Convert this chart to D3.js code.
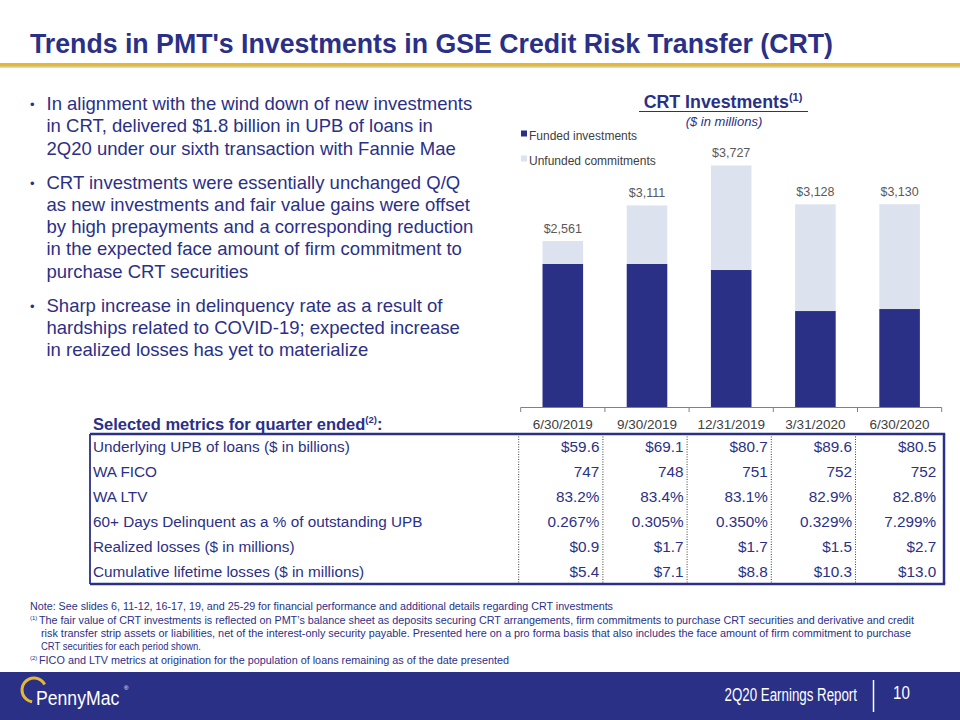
<!DOCTYPE html>
<html><head><meta charset="utf-8">
<script src="https://cdn.jsdelivr.net/npm/d3@7"></script>
<style>
html,body{margin:0;padding:0;background:#fff;}
svg{display:block;}
</style></head>
<body>
<svg id="c" width="960" height="720"></svg>
<script>
// ---- Data ----
const quarters = ["6/30/2019", "9/30/2019", "12/31/2019", "3/31/2020", "6/30/2020"];
const fundedInvestments = [2207, 2207, 2114, 1481, 1512];
const unfundedCommitments = [354, 904, 1613, 1647, 1618];
const totalLabels = [2561, 3111, 3727, 3128, 3130];
const seriesNames = ["Funded investments", "Unfunded commitments"];

const metricLabels = [
  "Underlying UPB of loans ($ in billions)",
  "WA FICO",
  "WA LTV",
  "60+ Days Delinquent as a % of outstanding UPB",
  "Realized losses ($ in millions)",
  "Cumulative lifetime losses ($ in millions)"
];
const upbBillions = [59.6, 69.1, 80.7, 89.6, 80.5];
const waFico = [747, 748, 751, 752, 752];
const waLtv = [83.2, 83.4, 83.1, 82.9, 82.8];
const delinquent60 = [0.267, 0.305, 0.350, 0.329, 7.299];
const realizedLosses = [0.9, 1.7, 1.7, 1.5, 2.7];
const cumulativeLosses = [5.4, 7.1, 8.8, 10.3, 13.0];

const bullets = [
  ["In alignment with the wind down of new investments",
   "in CRT, delivered $1.8 billion in UPB of loans in",
   "2Q20 under our sixth transaction with Fannie Mae"],
  ["CRT investments were essentially unchanged Q/Q",
   "as new investments and fair value gains were offset",
   "by high prepayments and a corresponding reduction",
   "in the expected face amount of firm commitment to",
   "purchase CRT securities"],
  ["Sharp increase in delinquency rate as a result of",
   "hardships related to COVID-19; expected increase",
   "in realized losses has yet to materialize"]
];

// ---- Styles ----
const NAVY = "#2B3087";
const LIGHT = "#DCE3EF";
const GOLD = "#E3B836";
const SANS = "Arial, 'Liberation Sans', sans-serif";
const NARROW = "'Liberation Sans Narrow', 'Arial Narrow', 'Liberation Sans', Arial, sans-serif";

const svg = d3.select("#c");

// ---- Title ----
svg.append("text").attr("x", 30).attr("y", 53)
  .attr("font-family", NARROW).attr("font-weight", "bold").attr("font-size", 27)
  .attr("fill", NAVY).attr("textLength", 803).attr("lengthAdjust", "spacingAndGlyphs")
  .text("Trends in PMT's Investments in GSE Credit Risk Transfer (CRT)");
svg.append("rect").attr("x", 0).attr("y", 66).attr("width", 960).attr("height", 2).attr("fill", "#d9d9d9");
svg.append("rect").attr("x", 0).attr("y", 63).attr("width", 960).attr("height", 3.5).attr("fill", GOLD);

// ---- Bullets ----
const bulletStart = [110, 188.5, 311.5];
const lineStep = 22.3;
bullets.forEach((lines, bi) => {
  svg.append("text").attr("x", 30).attr("y", bulletStart[bi] - 1)
    .attr("font-family", SANS).attr("font-size", 13).attr("fill", NAVY).text("•");
  lines.forEach((ln, li) => {
    svg.append("text").attr("x", 46.5).attr("y", bulletStart[bi] + li * lineStep)
      .attr("font-family", SANS).attr("font-size", 18.5).attr("fill", NAVY).text(ln);
  });
});

// ---- Chart ----
const x = d3.scaleBand().domain(quarters).range([520.7, 941.7]).paddingInner(0.518).paddingOuter(0.259);
const y = d3.scaleLinear().domain([0, 4000]).range([407, 147.8]);
const step = x.step(), bw = x.bandwidth();

const stackData = quarters.map((q, i) => ({q, funded: fundedInvestments[i], unfunded: unfundedCommitments[i]}));
const stack = d3.stack().keys(["funded", "unfunded"])(stackData);
const colors = {funded: NAVY, unfunded: LIGHT};

svg.append("g").selectAll("g").data(stack).join("g")
  .attr("fill", d => colors[d.key])
  .selectAll("rect").data(d => d).join("rect")
  .attr("x", d => x(d.data.q)).attr("width", bw)
  .attr("y", d => y(d[1])).attr("height", d => y(d[0]) - y(d[1]));

// value labels
svg.append("g").selectAll("text").data(quarters).join("text")
  .attr("x", q => x(q) + bw / 2)
  .attr("y", (q, i) => y(fundedInvestments[i] + unfundedCommitments[i]) - 8)
  .attr("text-anchor", "middle").attr("font-family", SANS).attr("font-size", 12.5).attr("fill", "#595959")
  .text((q, i) => "$" + d3.format(",")(totalLabels[i]));

// axis line + ticks at band boundaries
const axisY = y(0) + 0.5;
const x0 = x.range()[0], x1 = x.range()[1];
svg.append("line").attr("x1", x0).attr("x2", x1).attr("y1", axisY).attr("y2", axisY)
  .attr("stroke", "#808080").attr("stroke-width", 1);
const bounds = quarters.map(q => x(q) - (step - bw) / 2).concat([x1]);
svg.append("g").selectAll("line").data(bounds).join("line")
  .attr("x1", d => d).attr("x2", d => d).attr("y1", axisY).attr("y2", axisY + 4.5)
  .attr("stroke", "#808080").attr("stroke-width", 1);

// category labels
svg.append("g").selectAll("text").data(quarters).join("text")
  .attr("x", q => x(q) + bw / 2).attr("y", 429)
  .attr("text-anchor", "middle").attr("font-family", SANS).attr("font-size", 13.5).attr("fill", "#404040")
  .text(q => q);

// chart title
const ct = svg.append("text").attr("x", 723).attr("y", 108).attr("text-anchor", "middle")
  .attr("font-family", SANS).attr("font-weight", "bold").attr("font-size", 17.8).attr("fill", NAVY);
ct.append("tspan").text("CRT Investments");
ct.append("tspan").attr("font-size", 11).attr("dy", -7).text("(1)");
svg.append("line").attr("x1", 639).attr("x2", 808).attr("y1", 111.5).attr("y2", 111.5)
  .attr("stroke", NAVY).attr("stroke-width", 1.2);
svg.append("text").attr("x", 724).attr("y", 125.5).attr("text-anchor", "middle")
  .attr("font-family", SANS).attr("font-style", "italic").attr("font-size", 13).attr("fill", NAVY)
  .text("($ in millions)");

// legend
const legY = [136.5, 161.5];
["funded", "unfunded"].forEach((k, i) => {
  svg.append("rect").attr("x", 521).attr("y", legY[i] - 6).attr("width", 6).attr("height", 6).attr("fill", colors[k]);
  svg.append("text").attr("x", 529).attr("y", legY[i] + 3.5).attr("font-family", SANS).attr("font-size", 12)
    .attr("fill", "#404040").text(seriesNames[i]);
});

// ---- Table ----
const tTop = 434, rowH = 25, tLeft = 90, tRight = 944;
const tBottom = tTop + rowH * metricLabels.length;
const hdr = svg.append("text").attr("x", 93).attr("y", 430)
  .attr("font-family", SANS).attr("font-weight", "bold").attr("font-size", 16.5).attr("fill", NAVY);
hdr.append("tspan").text("Selected metrics for quarter ended");
hdr.append("tspan").attr("font-size", 9.5).attr("dy", -7).text("(2)");
hdr.append("tspan").attr("dy", 7).text(":");

const rows = [
  upbBillions.map(v => "$" + d3.format(".1f")(v)),
  waFico.map(v => d3.format("d")(v)),
  waLtv.map(v => d3.format(".1f")(v) + "%"),
  delinquent60.map(v => d3.format(".3f")(v) + "%"),
  realizedLosses.map(v => "$" + d3.format(".1f")(v)),
  cumulativeLosses.map(v => "$" + d3.format(".1f")(v))
];

// separators (dotted)
svg.append("g").selectAll("line").data(bounds.slice(0, 5)).join("line")
  .attr("x1", d => d - 2).attr("x2", d => d - 2).attr("y1", tTop).attr("y2", tBottom)
  .attr("stroke", "#404040").attr("stroke-width", 1).attr("stroke-dasharray", "1,1.5");

metricLabels.forEach((lab, r) => {
  const by = tTop + rowH * r + rowH / 2 + 5.5;
  svg.append("text").attr("x", 93).attr("y", by).attr("font-family", SANS).attr("font-size", 15.3)
    .attr("fill", NAVY).text(lab);
  quarters.forEach((q, c) => {
    svg.append("text").attr("x", x(q) + bw / 2 + step / 2 - 5.5).attr("y", by).attr("text-anchor", "end")
      .attr("font-family", SANS).attr("font-size", 15.3).attr("fill", NAVY).text(rows[r][c]);
  });
});

// borders
svg.append("line").attr("x1", tLeft).attr("x2", tRight + 1.2).attr("y1", tTop).attr("y2", tTop).attr("stroke", NAVY).attr("stroke-width", 2.5);
svg.append("line").attr("x1", tLeft).attr("x2", tRight + 1.2).attr("y1", tBottom).attr("y2", tBottom).attr("stroke", NAVY).attr("stroke-width", 2.5);
svg.append("line").attr("x1", tLeft).attr("x2", tLeft).attr("y1", tTop).attr("y2", tBottom).attr("stroke", NAVY).attr("stroke-width", 1.8);
svg.append("line").attr("x1", tRight).attr("x2", tRight).attr("y1", tTop).attr("y2", tBottom).attr("stroke", NAVY).attr("stroke-width", 2.5);

// ---- Footnotes ----
const fnFont = 10;
function fnLine(xp, yp, txt, len) {
  const t = svg.append("text").attr("x", xp).attr("y", yp).attr("font-family", NARROW)
    .attr("font-size", fnFont).attr("fill", NAVY).text(txt);
  if (len) t.attr("textLength", len).attr("lengthAdjust", "spacingAndGlyphs");
  return t;
}
fnLine(30, 610, "Note: See slides 6, 11-12, 16-17, 19, and 25-29 for financial performance and additional details regarding CRT  investments", 583);
svg.append("text").attr("x", 30).attr("y", 620).attr("font-family", NARROW).attr("font-size", 6).attr("fill", NAVY).text("(1)");
fnLine(39, 624, "The fair value of CRT investments is reflected on PMT’s  balance sheet as deposits securing CRT arrangements, firm commitments  to purchase CRT securities and derivative and credit", 875);
fnLine(41, 637, "risk transfer strip assets or liabilities, net of the interest-only security payable.  Presented here on a pro forma basis that also includes the  face amount of firm commitment  to purchase", 870);
fnLine(41, 650, "CRT  securities for each period shown.", 160);
svg.append("text").attr("x", 30).attr("y", 660).attr("font-family", NARROW).attr("font-size", 6).attr("fill", NAVY).text("(2)");
fnLine(39, 664, "FICO  and LTV metrics at origination  for the population  of loans remaining  as of the date presented", 470);

// ---- Footer ----
svg.append("rect").attr("x", 0).attr("y", 672).attr("width", 960).attr("height", 48).attr("fill", NAVY);
svg.append("text").attr("transform", "translate(857,701) scale(0.72,1)").attr("text-anchor", "end")
  .attr("font-family", SANS).attr("font-size", 18.5).attr("fill", "#fff")
  .text("2Q20 Earnings Report");
svg.append("line").attr("x1", 873.5).attr("x2", 873.5).attr("y1", 680).attr("y2", 712).attr("stroke", "#fff").attr("stroke-width", 1.5);
svg.append("text").attr("transform", "translate(893,699) scale(0.82,1)")
  .attr("font-family", SANS).attr("font-size", 18.5).attr("fill", "#fff").text("10");
// logo
const arc = d3.arc().innerRadius(10.5).outerRadius(13.5).startAngle(-Math.PI * 0.95).endAngle(Math.PI * 0.35);
svg.append("path").attr("d", arc()).attr("transform", "translate(34,690)").attr("fill", GOLD);
svg.append("text").attr("transform", "translate(36,705) scale(0.84,1)").attr("font-family", SANS).attr("font-size", 21)
  .attr("fill", "#fff").text("PennyMac");
svg.append("text").attr("x", 124).attr("y", 690).attr("font-family", SANS).attr("font-size", 6)
  .attr("fill", "#fff").text("®");
</script>
</body></html>
